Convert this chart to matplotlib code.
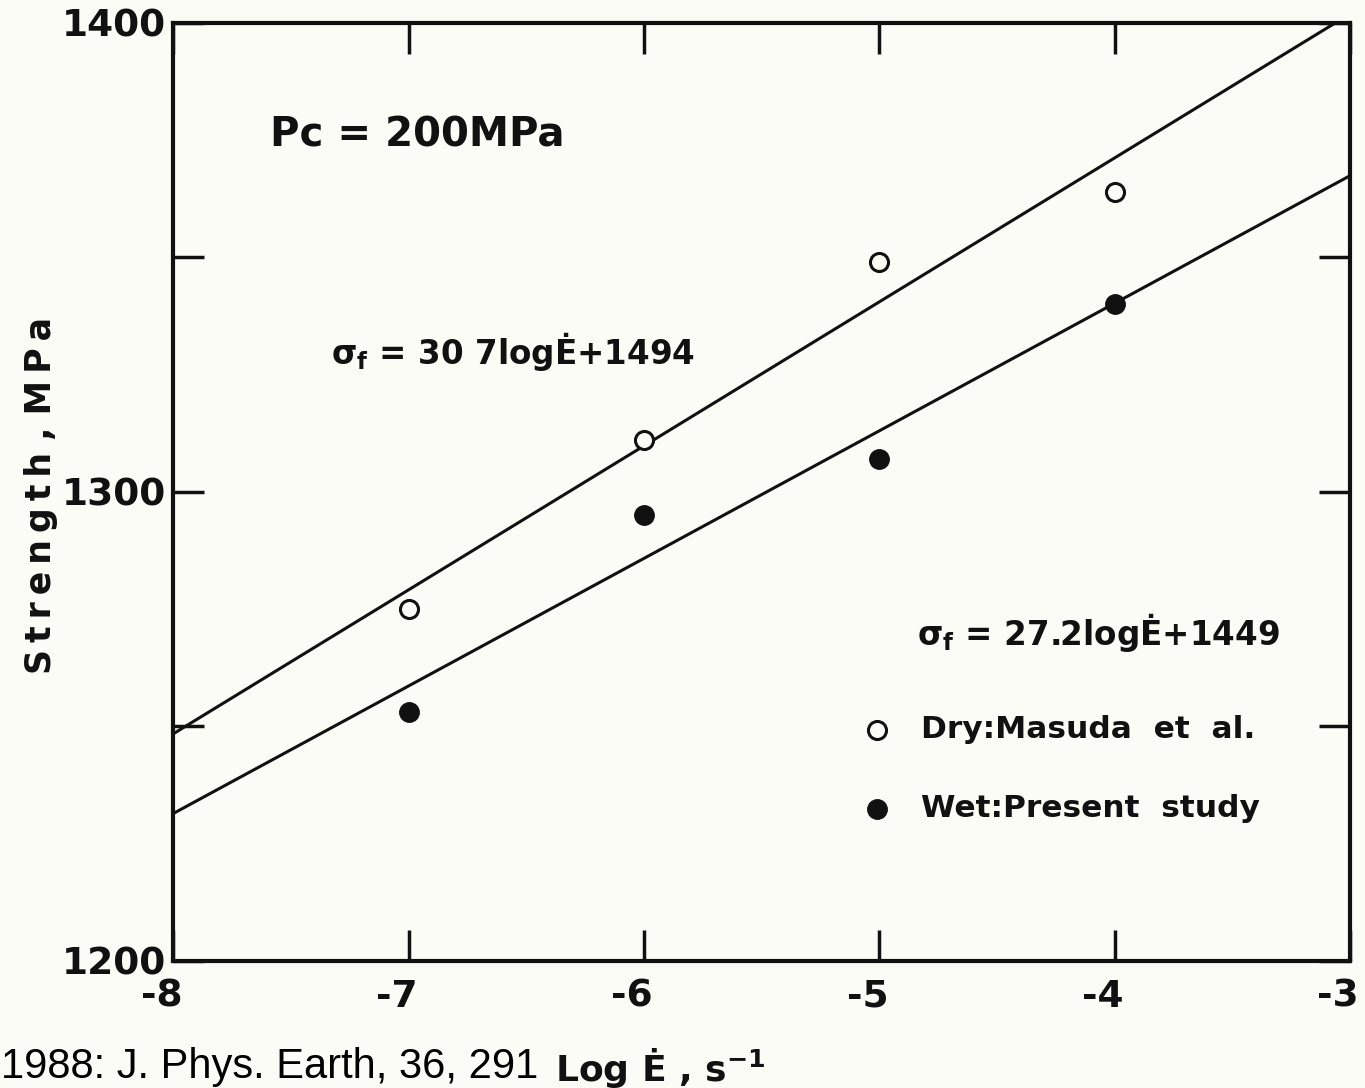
import numpy as np
import matplotlib
matplotlib.use("Agg")
import matplotlib.pyplot as plt
from matplotlib.transforms import ScaledTranslation

# Data (strain rate exponent vs strength)
log_rate = [-7, -6, -5, -4]
dry_strength = [1275, 1311, 1349, 1364]
wet_strength = [1253, 1295, 1307, 1340]

# fitted lines: sigma_f = a * log(rate) + b
dry_fit = (30.7, 1494)
wet_fit = (27.2, 1449)

x_ticks = [-8, -7, -6, -5, -4, -3]
y_ticks = [1200, 1250, 1300, 1350, 1400]
y_ticklabels = ["1200", "", "1300", "", "1400"]

ink = "#111111"
paper = "#fcfcf6"
edot = "\u0116"

plt.rcParams["font.family"] = ["DejaVu Sans"]
plt.rcParams["mathtext.fontset"] = "dejavusans"

fig = plt.figure(figsize=(13.65, 10.88), dpi=100, facecolor=paper)
ax = fig.add_axes([0.127, 0.117, 0.862, 0.862], facecolor=paper)

xs = np.linspace(-8, -3, 50)
ax.plot(xs, dry_fit[0] * xs + dry_fit[1], color=ink, lw=2.2)
ax.plot(xs, wet_fit[0] * xs + wet_fit[1], color=ink, lw=2.2)

ax.plot(log_rate, dry_strength, "o", ms=13, mfc=paper, mec=ink, mew=2.2, ls="none")
ax.plot(log_rate, wet_strength, "o", ms=14, mfc=ink, mec=ink, ls="none")

ax.set_xlim(-8, -3)
ax.set_ylim(1200, 1400)
ax.set_xticks(x_ticks)
ax.set_xticklabels([str(t) for t in x_ticks])
ax.set_yticks(y_ticks)
ax.set_yticklabels(y_ticklabels)
ax.tick_params(direction="in", length=22, width=2.5, color=ink,
               top=True, right=True, labelsize=27, labelcolor=ink)
ax.tick_params(axis="x", pad=13)
ax.tick_params(axis="y", pad=5)
for lab in ax.get_xticklabels() + ax.get_yticklabels():
    lab.set_fontweight("bold")
shift = ScaledTranslation(-12 / 100, 0, fig.dpi_scale_trans)
for lab in ax.get_xticklabels():
    lab.set_transform(lab.get_transform() + shift)
for sp in ax.spines.values():
    sp.set_linewidth(3)
    sp.set_color(ink)

ax.text(-7.59, 1376, "Pc = 200MPa", fontsize=29, fontweight="bold", color=ink,
        va="center", ha="left")
ax.text(-7.33, 1330, "\u03c3$_\\mathbf{f}$ = 30 7log" + edot + "+1494", fontsize=23.5,
        fontweight="bold", color=ink, va="center", ha="left")
ax.text(-4.84, 1270, "\u03c3$_\\mathbf{f}$ = 27.2log" + edot + "+1449", fontsize=23.5,
        fontweight="bold", color=ink, va="center", ha="left")

# legend drawn by hand
ax.plot([0.598], [0.246], "o", ms=13, mfc=paper, mec=ink, mew=2.2,
        transform=ax.transAxes, clip_on=False)
ax.plot([0.598], [0.162], "o", ms=14, mfc=ink, mec=ink,
        transform=ax.transAxes, clip_on=False)
ax.text(0.635, 0.246, "Dry:Masuda  et  al.", transform=ax.transAxes,
        fontsize=22.5, fontweight="bold", color=ink, va="center", ha="left")
ax.text(0.635, 0.162, "Wet:Present  study", transform=ax.transAxes,
        fontsize=22.5, fontweight="bold", color=ink, va="center", ha="left")

ylab = "\u2009".join("Strength") + " , " + "\u2009".join("MPa")
fig.text(0.03, 0.545, ylab, rotation=90, fontsize=25,
         fontweight="bold", color=ink, ha="center", va="center")
fig.text(0.484, 0.018, "Log " + edot + " , s$^{\\mathbf{-1}}$", fontsize=26,
         fontweight="bold", color=ink, ha="center", va="center")
fig.text(0.001, 0.001, "1988: J. Phys. Earth, 36, 291", fontsize=30,
         family="Liberation Sans", color="#000000", ha="left", va="bottom")

fig.savefig("out.png", dpi=100, facecolor=paper)
